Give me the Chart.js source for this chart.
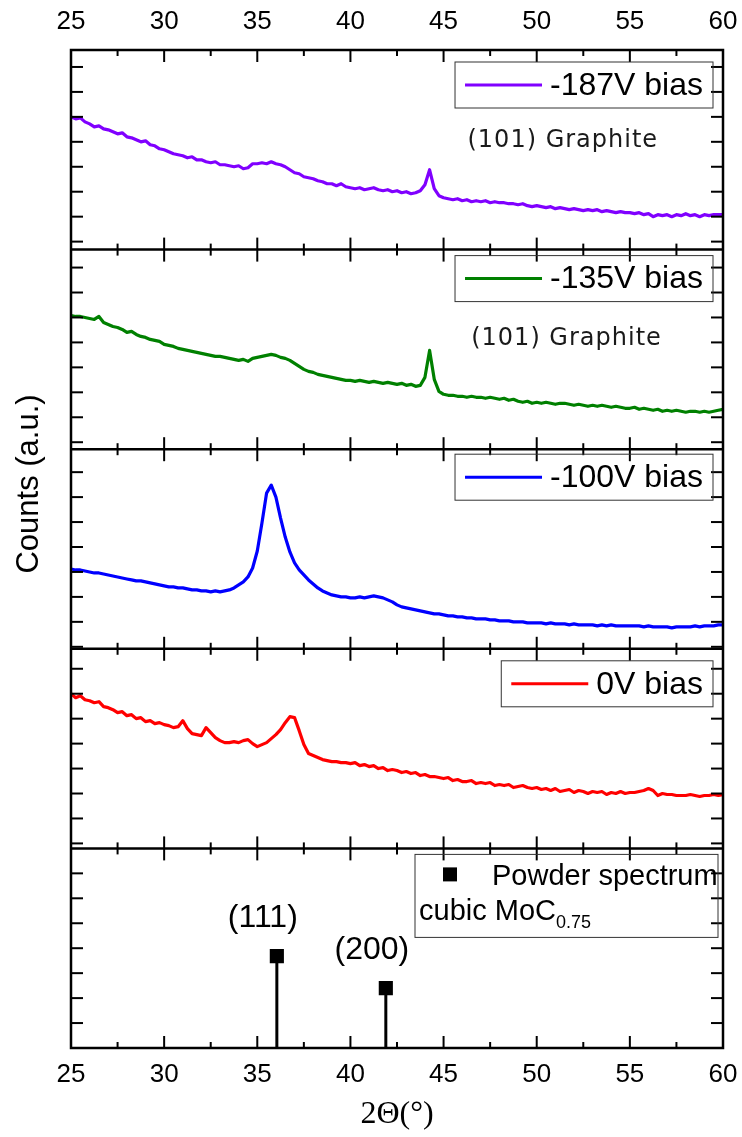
<!DOCTYPE html>
<html>
<head>
<meta charset="utf-8">
<script src="https://cdn.jsdelivr.net/npm/chart.js@4.4.1/dist/chart.umd.min.js"></script>
<style>
html,body{margin:0;padding:0;background:#fff;}
canvas{display:block;}
</style>
</head>
<body>
<canvas id="xrd" width="742" height="1137"></canvas>
<script>
// 2-theta sampling (degrees)
const twoTheta = [
  25,25.25,25.5,25.75,26,26.25,26.5,26.75,27,27.25,27.5,27.75,28,28.25,28.5,28.75,29,29.25,29.5,29.75,
  30,30.25,30.5,30.75,31,31.25,31.5,31.75,32,32.25,32.5,32.75,33,33.25,33.5,33.75,34,34.25,34.5,34.75,
  35,35.25,35.5,35.75,36,36.25,36.5,36.75,37,37.25,37.5,37.75,38,38.25,38.5,38.75,39,39.25,39.5,39.75,
  40,40.25,40.5,40.75,41,41.25,41.5,41.75,42,42.25,42.5,42.75,43,43.25,43.5,43.75,44,44.25,44.5,44.75,
  45,45.25,45.5,45.75,46,46.25,46.5,46.75,47,47.25,47.5,47.75,48,48.25,48.5,48.75,49,49.25,49.5,49.75,
  50,50.25,50.5,50.75,51,51.25,51.5,51.75,52,52.25,52.5,52.75,53,53.25,53.5,53.75,54,54.25,54.5,54.75,
  55,55.25,55.5,55.75,56,56.25,56.5,56.75,57,57.25,57.5,57.75,58,58.25,58.5,58.75,59,59.25,59.5,59.75,
  60
];

// counts (a.u.), one scan per substrate bias
const bias187 = [
  133,131,132,128,126,123,124,121,120,118,116,117,113,112,110,108,109,105,104,101,
  100,98,96,95,94,92,93,90,90,88,87,88,85,85,84,83,84,81,82,86,
  86,87,86,88,86,85,83,80,77,76,73,72,71,69,68,66,66,64,66,63,
  62,61,62,60,61,62,60,59,60,58,59,57,58,56,57,59,65,80,61,54,
  52,51,50,51,49,50,48,49,48,49,47,48,47,47,46,46,45,46,44,43,
  44,43,42,43,41,42,41,40,41,40,39,40,39,40,38,39,38,37,38,37,
  37,36,37,35,36,33,35,34,35,33,35,34,36,34,35,33,35,34,35,35,
  35
];
const bias135 = [
  134,133,133,132,131,130,133,127,125,123,122,120,117,118,115,113,112,110,109,108,
  105,104,103,101,100,99,98,97,96,95,94,93,93,92,91,90,89,90,88,91,
  92,93,94,95,94,92,91,89,86,83,80,78,77,75,74,73,72,71,70,69,
  69,68,69,68,67,68,67,66,67,66,65,66,64,65,63,64,72,99,70,58,
  55,54,54,53,53,52,53,52,52,51,52,51,50,51,49,50,48,47,48,46,
  47,46,47,46,45,46,46,45,44,45,44,43,44,43,44,43,42,43,42,41,
  41,42,40,41,40,39,40,38,39,38,39,38,37,38,38,37,38,37,38,39,
  40
];
const bias100 = [
  80,79,79,78,77,76,76,75,74,73,72,71,70,69,68,68,67,66,65,64,
  63,62,62,61,61,60,59,59,58,58,57,58,57,58,59,61,64,67,72,81,
  98,126,156,164,152,131,112,97,86,79,74,69,65,61,58,56,54,53,52,52,
  51,51,52,51,52,53,52,51,49,47,44,42,41,40,39,38,37,36,35,35,
  34,33,33,32,32,31,31,30,30,30,29,29,28,28,28,27,27,27,26,26,
  26,26,25,26,25,25,25,24,25,24,24,24,24,23,24,23,24,23,23,23,
  23,23,23,22,23,22,22,22,22,21,22,22,22,22,23,22,23,23,23,24,
  24
];
const bias0 = [
  155,151,153,149,148,146,147,142,141,139,136,137,133,134,130,131,127,128,125,126,
  124,123,121,122,128,120,115,114,113,121,116,111,108,106,106,107,106,108,109,105,
  102,104,106,110,114,119,126,132,131,118,104,95,93,91,89,88,87,87,86,86,
  85,86,83,84,82,83,80,81,78,79,78,76,77,75,76,73,74,72,72,71,
  70,71,68,69,67,67,68,65,66,65,66,63,64,63,64,61,62,63,61,60,
  61,59,60,58,60,57,58,59,56,58,57,55,57,56,57,54,56,55,57,55,
  56,56,57,58,60,58,53,55,54,54,53,53,53,54,53,52,53,53,54,53,
  54
];

// reference powder pattern, cubic MoC0.75
const powderTheta = [36.05, 41.9];
const powderIntensity = [92, 60];
const powderHkl = ['(111)', '(200)'];

const seriesLabels = ['-187V bias', '-135V bias', '-100V bias', '0V bias'];
const seriesColors = ['#8000ff', '#008000', '#0000ff', '#ff0000'];
const seriesData = [bias187, bias135, bias100, bias0];

const xTicks = [25, 30, 35, 40, 45, 50, 55, 60];
const panelIds = ['y0', 'y1', 'y2', 'y3', 'y4'];
const yTickStart = [8, 7, 2, 5, 25];
const legendTop = [12, 6, 5, 12];

function seg(ctx, x1, y1, x2, y2) {
  ctx.beginPath();
  ctx.moveTo(x1, y1);
  ctx.lineTo(x2, y2);
  ctx.stroke();
}

const panelPlugin = {
  id: 'panels',
  beforeDatasetsDraw(chart) {
    // stems below the powder markers
    const ctx = chart.ctx, x = chart.scales.x, y = chart.scales.y4;
    ctx.save();
    ctx.strokeStyle = '#000';
    ctx.lineWidth = 3;
    powderTheta.forEach((t, i) => {
      const px = x.getPixelForValue(t);
      seg(ctx, px, y.getPixelForValue(0), px, y.getPixelForValue(powderIntensity[i]));
    });
    ctx.restore();
  },
  afterDatasetsDraw(chart) {
    const ctx = chart.ctx, a = chart.chartArea, x = chart.scales.x;
    ctx.save();
    ctx.strokeStyle = '#000';
    ctx.lineWidth = 2;
    panelIds.forEach((id, k) => {
      const s = chart.scales[id];
      // inward x ticks on top and bottom of every panel
      for (let v = 27.5; v < 60; v += 2.5) {
        const px = x.getPixelForValue(v);
        const len = v % 5 === 0 ? 12 : 6;
        seg(ctx, px, s.top, px, s.top + len);
        seg(ctx, px, s.bottom, px, s.bottom - len);
      }
      // inward y ticks on both sides
      for (let v = yTickStart[k]; v < 199; v += 25) {
        const py = s.getPixelForValue(v);
        seg(ctx, a.left, py, a.left + 12, py);
        seg(ctx, a.right, py, a.right - 12, py);
      }
    });
    ctx.lineWidth = 2.5;
    ctx.strokeRect(a.left, a.top, a.right - a.left, a.bottom - a.top);
    panelIds.slice(1).forEach(id => {
      const t = chart.scales[id].top;
      seg(ctx, a.left, t, a.right, t);
    });
    ctx.restore();
  },
  afterDraw(chart) {
    const ctx = chart.ctx, a = chart.chartArea, x = chart.scales.x;
    ctx.save();

    // per-panel legends
    ctx.font = '32px "Liberation Sans", Arial, sans-serif';
    ctx.textAlign = 'left';
    ctx.textBaseline = 'middle';
    seriesLabels.forEach((lab, k) => {
      const s = chart.scales[panelIds[k]];
      const tw = ctx.measureText(lab).width;
      const right = a.right - 10, top = s.top + legendTop[k], h = 46;
      const left = right - (95 + tw + 10);
      ctx.strokeStyle = '#333';
      ctx.lineWidth = 1;
      ctx.strokeRect(left, top, right - left, h);
      ctx.strokeStyle = seriesColors[k];
      ctx.lineWidth = 3;
      seg(ctx, left + 10, top + h / 2, left + 87, top + h / 2);
      ctx.fillStyle = '#000';
      ctx.fillText(lab, left + 95, top + h / 2 + 1);
    });

    // powder legend
    const s4 = chart.scales.y4;
    const pr = a.right - 5, pl = pr - 303, pt = s4.top + 6;
    ctx.strokeStyle = '#333';
    ctx.lineWidth = 1;
    ctx.strokeRect(pl, pt, pr - pl, 83);
    ctx.fillStyle = '#000';
    ctx.fillRect(pl + 28, pt + 13, 14, 14);
    ctx.font = '29px "Liberation Sans", Arial, sans-serif';
    ctx.textBaseline = 'alphabetic';
    ctx.fillText('Powder spectrum', pl + 77, pt + 31);
    ctx.fillText('cubic MoC', pl + 4, pt + 66);
    const cw = ctx.measureText('cubic MoC').width;
    ctx.font = '18px "Liberation Sans", Arial, sans-serif';
    ctx.fillText('0.75', pl + 4 + cw, pt + 74);

    // hkl labels above the powder markers
    ctx.font = '32px "Liberation Sans", Arial, sans-serif';
    ctx.textAlign = 'center';
    ctx.textBaseline = 'middle';
    powderTheta.forEach((t, i) => {
      ctx.fillText(powderHkl[i], x.getPixelForValue(t) - 14, s4.getPixelForValue(powderIntensity[i]) - 38);
    });

    // graphite reflection notes
    ctx.font = '24px "DejaVu Sans", sans-serif';
    ctx.fillStyle = '#1a1a1a';
    if ('letterSpacing' in ctx) ctx.letterSpacing = '1px';
    ctx.fillText('(101) Graphite', x.getPixelForValue(51.4), chart.scales.y0.getPixelForValue(109));
    ctx.fillText('(101) Graphite', x.getPixelForValue(51.6), chart.scales.y1.getPixelForValue(111));
    if ('letterSpacing' in ctx) ctx.letterSpacing = '0px';

    // shared y title
    ctx.fillStyle = '#000';
    ctx.font = '31px "Liberation Sans", Arial, sans-serif';
    ctx.translate(29, a.top + 434);
    ctx.rotate(-Math.PI / 2);
    ctx.fillText('Counts (a.u.)', 0, 0);
    ctx.restore();
  }
};

const tickFont = {family: '"Liberation Sans", Arial, sans-serif', size: 26};

// keep the edge labels from shrinking the plot area
function fitX(height) {
  return s => {
    s.height = height;
    s.paddingLeft = 0;
    s.paddingRight = 0;
  };
}

const scales = {
  x: {
    type: 'linear', position: 'bottom', min: 25, max: 60,
    grid: {display: false, drawTicks: false},
    border: {display: false},
    afterBuildTicks: s => { s.ticks = xTicks.map(v => ({value: v})); },
    ticks: {padding: 11, color: '#000', font: tickFont},
    title: {display: true, text: '2Θ(°)', color: '#000',
      font: {family: '"Liberation Serif", "Times New Roman", serif', size: 32},
      padding: {top: 0, bottom: 3}},
    afterFit: fitX(89)
  },
  x2: {
    type: 'linear', position: 'top', min: 25, max: 60,
    grid: {display: false, drawTicks: false},
    border: {display: false},
    afterBuildTicks: s => { s.ticks = xTicks.map(v => ({value: v})); },
    ticks: {padding: 13, color: '#000', font: tickFont},
    afterFit: fitX(50)
  }
};
panelIds.forEach((id, k) => {
  scales[id] = {
    type: 'linear', position: 'left', stack: 'panels', stackWeight: 1,
    weight: panelIds.length - k, min: 0, max: 200,
    ticks: {display: false},
    grid: {display: false, drawTicks: false},
    border: {display: false},
    afterFit: s => { s.width = 0; }
  };
});

const datasets = seriesData.map((d, k) => ({
  label: seriesLabels[k],
  data: d,
  yAxisID: panelIds[k],
  borderColor: seriesColors[k],
  borderWidth: 3.2,
  borderJoinStyle: 'round',
  pointRadius: 0
}));
datasets.push({
  label: 'Powder spectrum',
  data: powderTheta.map((t, i) => ({x: t, y: powderIntensity[i]})),
  yAxisID: 'y4',
  showLine: false,
  pointStyle: 'rect',
  pointRadius: 10,
  backgroundColor: '#000',
  borderWidth: 0
});

new Chart(document.getElementById('xrd'), {
  type: 'line',
  data: {labels: twoTheta, datasets: datasets},
  options: {
    responsive: false,
    animation: false,
    layout: {padding: {left: 71, right: 19, top: 0, bottom: 0}},
    elements: {line: {tension: 0}},
    plugins: {legend: {display: false}, tooltip: {enabled: false}},
    scales: scales
  },
  plugins: [panelPlugin]
});
</script>
</body>
</html>
